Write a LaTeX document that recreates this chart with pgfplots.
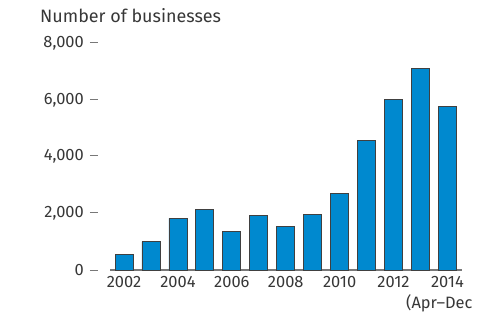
\documentclass[border=0pt]{standalone}
\usepackage{fontspec}
\setmainfont{Fira Sans}
\usepackage{pgfplots}
\pgfplotsset{compat=1.18}
\definecolor{barblue}{RGB}{0,137,207}
\definecolor{txt}{RGB}{55,55,55}
\definecolor{axgray}{RGB}{120,120,120}
\newcommand\tdash{\hspace{6bp}\textcolor{axgray}{\rule[4.6bp]{8bp}{1bp}}}
\begin{document}
\begin{tikzpicture}
\useasboundingbox (0,0) rectangle (477bp,315bp);
\begin{axis}[at={(110bp,45bp)}, anchor=south west, scale only axis,
  width=352bp, height=226.7bp,
  xmin=2001.48, xmax=2014.54, ymin=0, ymax=8000,
  axis x line*=bottom, axis y line*=left,
  y axis line style={draw=none},
  x axis line style={draw=axgray, line width=1.2bp},
  major tick length=0,
  xtick={2002,2004,...,2014},
  xticklabels={2002,2004,2006,2008,2010,2012,2014},
  ytick={0,2000,4000,6000,8000},
  yticklabels={0\tdash,{2,000\tdash},{4,000\tdash},{6,000\tdash},{8,000\tdash}},
  yticklabel style={anchor=east, inner sep=0pt, xshift=-12bp},
  xticklabel style={inner sep=0pt, yshift=-6bp},
  ticklabel style={font=\fontsize{16.5}{19}\selectfont, text=txt},
  clip=false,
]
\addplot[ybar, bar width=18bp, fill=barblue, draw=black!75, line width=0.8bp]
coordinates {
(2002,564) (2003,998) (2004,1823) (2005,2140) (2006,1351) (2007,1915)
(2008,1552) (2009,1965) (2010,2705) (2011,4585) (2012,6032) (2013,7114) (2014,5774)
};
\end{axis}
\node[anchor=base west, inner sep=0pt, text=txt, font=\fontsize{18}{21}\selectfont] at (40bp,292.3bp) {Number of businesses};
\node[anchor=base west, inner sep=0pt, text=txt, font=\fontsize{16.5}{19}\selectfont] at (406bp,7bp) {(Apr–Dec};
\end{tikzpicture}
\end{document}
